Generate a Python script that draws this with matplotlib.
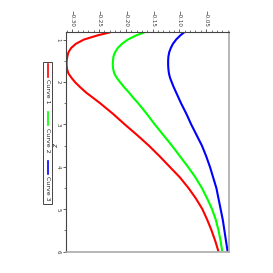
import matplotlib
matplotlib.use("Agg")
import matplotlib.pyplot as plt
from matplotlib.lines import Line2D
from matplotlib.patches import Rectangle
from matplotlib.ticker import MultipleLocator

# Data
x_vals = [0.83, 0.9, 1.0, 1.1, 1.2, 1.3, 1.4, 1.5, 1.6, 1.7, 1.8, 1.9, 2.0, 2.125, 2.25,
          2.375, 2.5, 2.75, 3.0, 3.25, 3.5, 3.75, 4.0, 4.25, 4.5, 4.75, 5.0, 5.25, 5.5,
          5.75, 6.0]
curve1 = [-0.229, -0.252, -0.278, -0.293, -0.302, -0.307, -0.309, -0.3103, -0.3105, -0.3095,
          -0.307, -0.3015, -0.295, -0.285, -0.274, -0.261, -0.248, -0.224, -0.202, -0.179,
          -0.157, -0.137, -0.118, -0.099, -0.083, -0.069, -0.057, -0.048, -0.040, -0.033,
          -0.027]
curve2 = [-0.165, -0.180, -0.196, -0.207, -0.215, -0.220, -0.223, -0.224, -0.2243, -0.2235,
          -0.2215, -0.217, -0.211, -0.203, -0.194, -0.186, -0.177, -0.161, -0.146, -0.130,
          -0.114, -0.099, -0.084, -0.070, -0.058, -0.048, -0.039, -0.032, -0.027, -0.023,
          -0.020]
curve3 = [-0.091, -0.098, -0.106, -0.112, -0.116, -0.119, -0.1205, -0.121, -0.121, -0.1205,
          -0.1195, -0.1175, -0.1145, -0.1105, -0.106, -0.1015, -0.097, -0.087, -0.078, -0.068,
          -0.058, -0.050, -0.043, -0.037, -0.031, -0.027, -0.023, -0.019, -0.016, -0.013,
          -0.010]
series_names = ["Curve 1", "Curve 2", "Curve 3"]
series_colors = ["#ff0000", "#00ff00", "#0000ff"]
value_ticks = [-0.30, -0.25, -0.20, -0.15, -0.10, -0.05]
z_ticks = [1, 2, 3, 4, 5, 6]

W = H = 273
fig = plt.figure(figsize=(2.73, 2.73), dpi=100)

def fx(px):
    return px / W

def fy(py):
    return 1 - py / H

# axes placed in rotated orientation (chart is turned 90 degrees clockwise)
ax = fig.add_axes([fx(66.3), fy(251.7), fx(228.7) - fx(66.3), fy(32.3) - fy(251.7)])
for vals, col in zip([curve1, curve2, curve3], series_colors):
    ax.plot(vals, x_vals, color=col, lw=1.5, solid_capstyle="butt", solid_joinstyle="round")

ax.set_xlim(-0.311, -0.008)
ax.set_ylim(6.0, 0.83)

ax.xaxis.tick_top()
ax.set_xticks(value_ticks)
ax.set_xticklabels([f"{v:.2f}".replace("-", "\u2212") for v in value_ticks],
                   rotation=-90, fontsize=4, color="#333333")
ax.xaxis.set_minor_locator(MultipleLocator(0.01))
ax.set_yticks(z_ticks)
ax.set_yticklabels([str(t) for t in z_ticks], rotation=-90, fontsize=4,
                   color="#333333", va="center")
ax.yaxis.set_minor_locator(MultipleLocator(0.5))
ax.tick_params(which="major", length=2.5, width=0.6, color="#444444", pad=1.5)
ax.tick_params(which="minor", length=1.3, width=0.5, color="#444444")
ax.tick_params(axis="x", which="both", top=True, bottom=False)
ax.tick_params(axis="y", which="both", left=True, right=False)

for side in ["left", "top"]:
    ax.spines[side].set_color("#444444")
    ax.spines[side].set_linewidth(0.8)
for side in ["right", "bottom"]:
    ax.spines[side].set_color("#aaaaaa")
    ax.spines[side].set_linewidth(1.2)

# axis label
fig.text(fx(54.5), fy(145), "$z$", rotation=-90, fontsize=5, ha="center", va="center",
         color="#333333")

# legend drawn in rotated orientation
fig.patches.append(Rectangle((fx(43.3), fy(203.5)), fx(51.7) - fx(43.3), fy(61.7) - fy(203.5),
                             transform=fig.transFigure, fill=False, edgecolor="#444444",
                             linewidth=0.7))
line_spans = [(63.5, 76.5), (111.5, 125.0), (160.5, 174.0)]
text_tops = [79.0, 127.5, 176.5]
for name, col, (a, b), t in zip(series_names, series_colors, line_spans, text_tops):
    fig.add_artist(Line2D([fx(47.5), fx(47.5)], [fy(a), fy(b)], transform=fig.transFigure,
                          color=col, lw=1.2))
    fig.text(fx(47.5), fy(t), name, rotation=-90, fontsize=4.5, ha="center", va="top",
             color="#222222")

fig.savefig("out.png", dpi=100)
